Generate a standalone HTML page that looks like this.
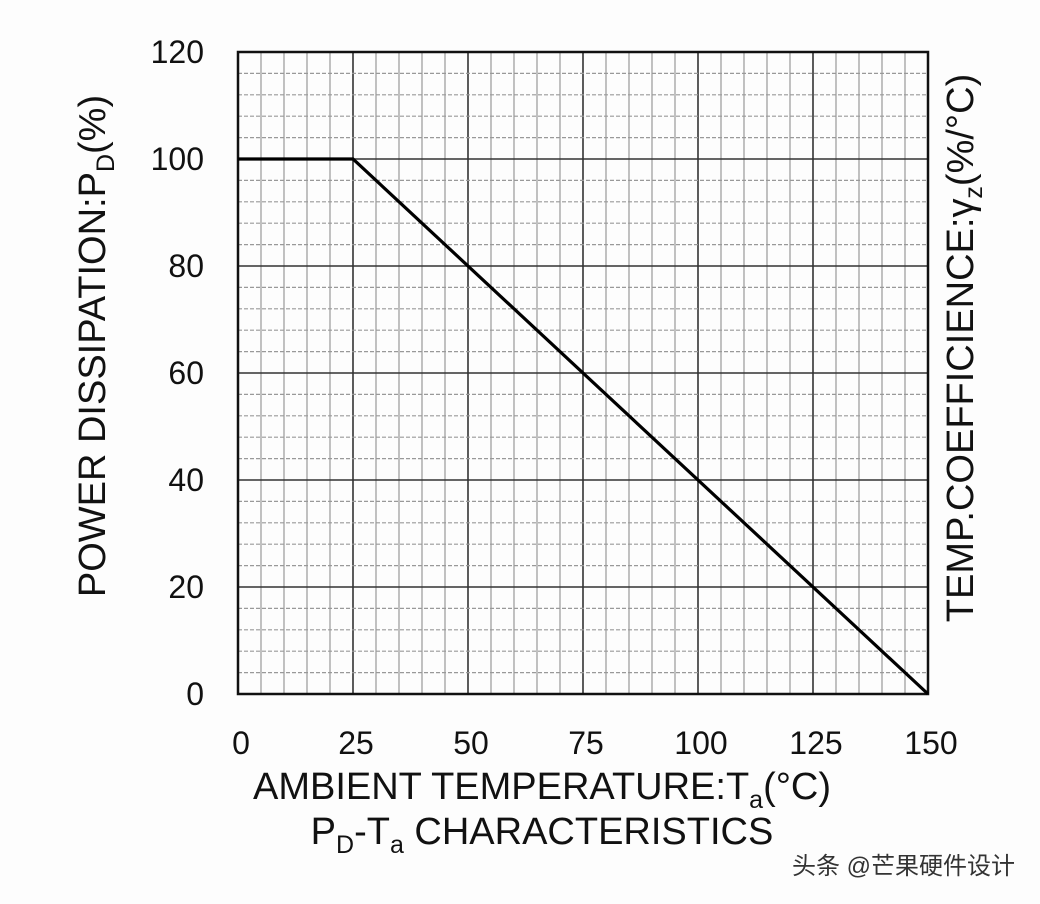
<!DOCTYPE html>
<html><head><meta charset="utf-8"><style>
html,body{margin:0;padding:0;background:#fff;}
svg{display:block;font-family:"Liberation Sans","Noto Sans CJK SC",sans-serif;}
</style></head><body>
<svg id="chart" width="1040" height="904" viewBox="0 0 1040 904">
<rect width="1040" height="904" fill="#fdfdfd"/>
<g id="grid"></g>
<g id="ticks" font-size="32" fill="#111"></g>
<g id="series"></g>
<text transform="translate(105,346) rotate(-90)" text-anchor="middle" font-size="38" fill="#111">POWER DISSIPATION:P<tspan font-size="25" dy="9">D</tspan><tspan dy="-9">(%)</tspan></text>
<text transform="translate(973,348) rotate(-90)" text-anchor="middle" font-size="38" fill="#111">TEMP.COEFFICIENCE:γ<tspan font-size="25" dy="9">z</tspan><tspan dy="-9">(%/°C)</tspan></text>
<text x="542" y="799" text-anchor="middle" font-size="38" fill="#111">AMBIENT TEMPERATURE:T<tspan font-size="25" dy="9">a</tspan><tspan dy="-9">(°C)</tspan></text>
<text x="542" y="844" text-anchor="middle" font-size="38" fill="#111">P<tspan font-size="25" dy="9">D</tspan><tspan dy="-9">-T</tspan><tspan font-size="25" dy="9">a</tspan><tspan dy="-9"> CHARACTERISTICS</tspan></text>
<text x="1015" y="874" text-anchor="end" font-size="24" fill="#333">头条 @芒果硬件设计</text>
</svg>
<script>
const xTicks=[0,25,50,75,100,125,150];
const yTicks=[0,20,40,60,80,100,120];
const seriesX=[0,25,150];
const seriesY=[100,100,0];
const L=238,R=928,T=52,B=694;
const NS="http://www.w3.org/2000/svg";
function xs(v){return L+(v-0)/(150-0)*(R-L);}
function ys(v){return B-(v-0)/(120-0)*(B-T);}
function mk(tag,attrs,parent){const e=document.createElementNS(NS,tag);for(const k in attrs)e.setAttribute(k,attrs[k]);parent.appendChild(e);return e;}
const g=document.getElementById('grid');
for(let v=0;v<=150;v+=5){
  const major=v%25===0;
  const l=mk('line',{x1:xs(v),x2:xs(v),y1:T,y2:B,stroke:major?'#333':'#999','stroke-width':major?1.6:1.2},g);
  
  
}
for(let v=0;v<=120;v+=4){
  const major=v%20===0;
  const l=mk('line',{x1:L,x2:R,y1:ys(v),y2:ys(v),stroke:major?'#333':'#999','stroke-width':major?1.6:1.2,'stroke-dasharray':major?'none':'4 2'},g);
  
  
}
const fr=mk('rect',{x:L,y:T,width:R-L,height:B-T,fill:'none',stroke:'#111','stroke-width':2.5},g);


const tk=document.getElementById('ticks');
xTicks.forEach(v=>{const t=mk('text',{x:xs(v)+3,y:754,'text-anchor':'middle'},tk);t.textContent=v;
  
  });
yTicks.forEach(v=>{const t=mk('text',{x:204,y:ys(v)+11,'text-anchor':'end'},tk);t.textContent=v;
  
  });
const s=document.getElementById('series');
const pts=seriesX.map((x,i)=>xs(x)+','+ys(seriesY[i])).join(' ');
const pl=mk('polyline',{points:pts,fill:'none',stroke:'#000','stroke-width':3.2},s);


</script>
</body></html>
